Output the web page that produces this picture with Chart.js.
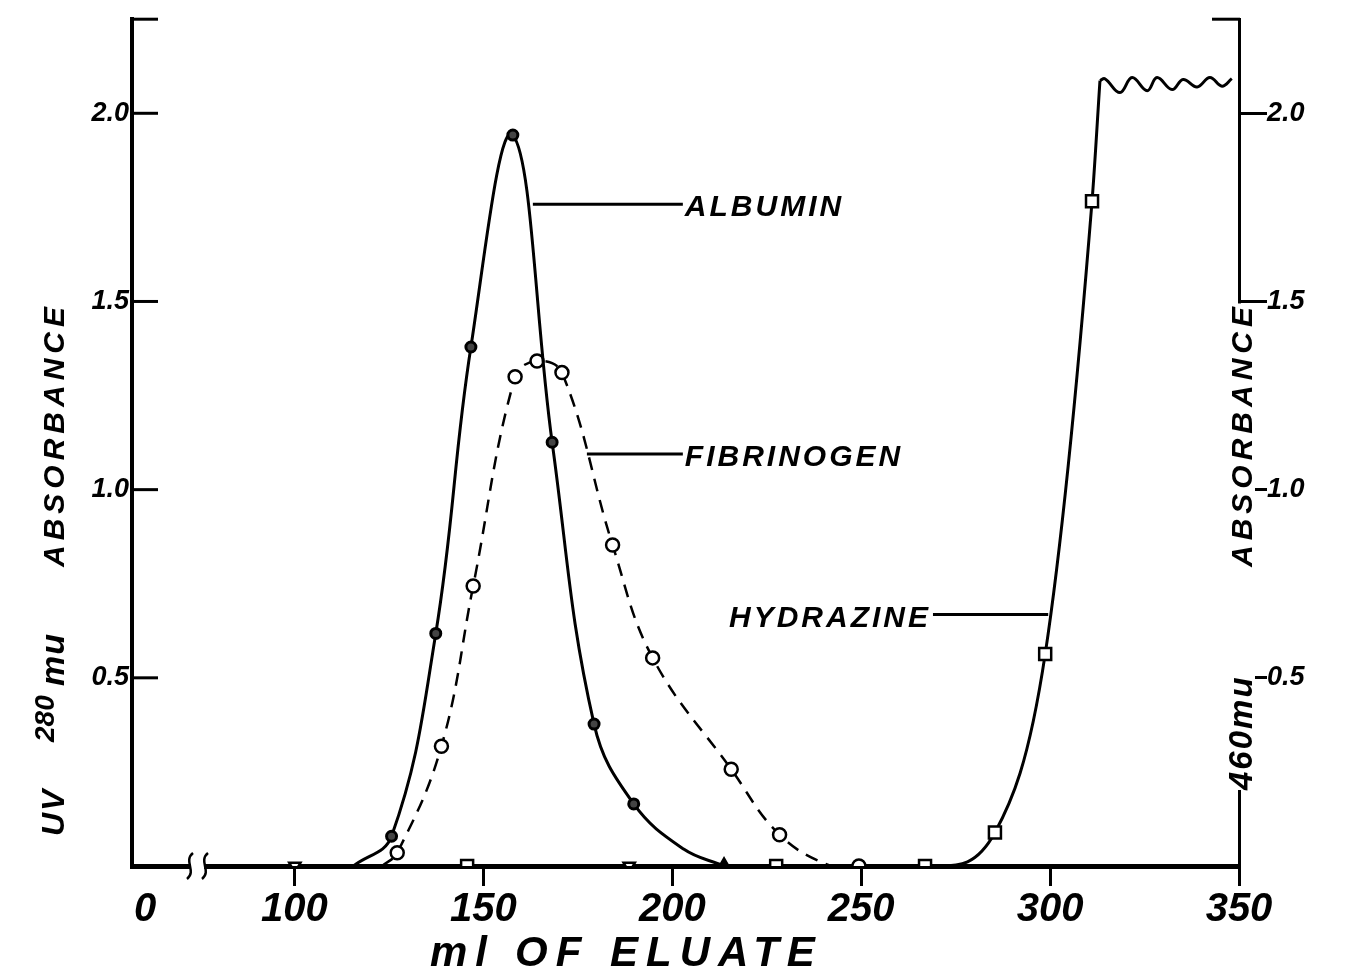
<!DOCTYPE html>
<html>
<head>
<meta charset="utf-8">
<script src="https://cdn.jsdelivr.net/npm/chart.js@4.4.1/dist/chart.umd.min.js"></script>
<style>
  html, body { margin: 0; padding: 0; background: #fff; }
  #wrap { width: 1345px; height: 975px; }
</style>
</head>
<body>
<div id="wrap"><canvas id="myChart"></canvas></div>
<script>
// ml of eluate vs absorbance
const albuminMl       = [115.6, 125.7, 137.4, 146.7, 157.8, 168.2, 179.3, 189.8, 203.0, 213.7];
const albuminAbs      = [0, 0.079, 0.618, 1.379, 1.942, 1.126, 0.377, 0.165, 0.045, 0];
const albuminMeasured = [false, true, true, true, true, true, true, true, false, true];

const fibrinogenMl       = [123.2, 127.2, 138.9, 147.3, 158.4, 164.2, 170.8, 184.2, 194.8, 215.6, 228.4, 242, 249.4];
const fibrinogenAbs      = [0, 0.035, 0.318, 0.744, 1.30, 1.342, 1.311, 0.853, 0.553, 0.257, 0.083, 0, 0];
const fibrinogenMeasured = [false, true, true, true, true, true, true, true, true, true, true, false, true];

const hydrazineMl       = [100.1, 145.7, 188.6, 227.5, 266.9, 270.9, 285.4, 298.7, 311.1, 313.2];
const hydrazineAbs      = [0, 0, 0, 0, 0, 0, 0.089, 0.563, 1.766, 2.087];
const hydrazineMeasured = [true, true, true, true, true, false, true, true, true, false];

// off-scale part of the hydrazine trace (wavy line at the top)
const hydrazineTopMl  = [313.2, 314.5, 318.5, 321.7, 325.7, 328.3, 332.3, 335.2, 338.9, 342.3, 345.5, 348.1];
const hydrazineTopAbs = [2.087, 2.092, 2.055, 2.095, 2.060, 2.095, 2.063, 2.090, 2.070, 2.095, 2.072, 2.092];

// axes
const xTickValues = [60.5, 100, 150, 200, 250, 300, 350];
const xTickLabels = ['0', '100', '150', '200', '250', '300', '350'];
const yTickValues = [0.5, 1.0, 1.5, 2.0];
const yTickLabels = ['0.5', '1.0', '1.5', '2.0'];

// marker shapes
const albuminShapes   = albuminMl.map((v, i) => i === albuminMl.length - 1 ? 'triangle' : 'circle');
const hydrazineShapes = ['triangle', 'rect', 'triangle', 'rect', 'rect', 'rect', 'rect', 'rect', 'rect', 'rect'];
const hydrazineRot    = [180, 0, 180, 0, 0, 0, 0, 0, 0, 0];

const FAMILY = '"Liberation Sans", Arial, sans-serif';
const letterFont = size => 'italic bold ' + size + 'px ' + FAMILY;

function toPoints(xs, ys) {
  return xs.map((x, i) => ({ x: x, y: ys[i] }));
}

// leader lines + series names
const seriesLabels = [
  { text: 'ALBUMIN',    from: 163.1, to: 202.8, abs: 1.758, side: 'right' },
  { text: 'FIBRINOGEN', from: 177.4, to: 202.8, abs: 1.095, side: 'right' },
  { text: 'HYDRAZINE',  from: 299.5, to: 269.0, abs: 0.668, side: 'left' }
];

function drawUp(ctx, text, bx, yBottom, size, spacing) {
  ctx.save();
  ctx.translate(bx, yBottom);
  ctx.rotate(-Math.PI / 2);
  ctx.font = letterFont(size);
  ctx.letterSpacing = spacing + 'px';
  ctx.textAlign = 'left';
  ctx.textBaseline = 'alphabetic';
  ctx.fillText(text, 0, 0);
  ctx.restore();
}

const decorations = {
  id: 'decorations',
  afterDraw(chart) {
    const ctx = chart.ctx;
    const a = chart.chartArea;
    const x = chart.scales.x;
    const y = chart.scales.y;
    ctx.save();
    ctx.strokeStyle = '#000';
    ctx.fillStyle = '#000';

    const seg = (x0, y0, x1, y1, w) => {
      ctx.lineWidth = w;
      ctx.beginPath(); ctx.moveTo(x0, y0); ctx.lineTo(x1, y1); ctx.stroke();
    };

    // left axis: ticks point inward
    yTickValues.forEach(v => {
      const py = y.getPixelForValue(v);
      seg(a.left, py, a.left + 26, py, 3);
    });
    // end caps at the top of both axes
    seg(a.left - 2, a.top, a.left + 26, a.top, 3);
    seg(a.right - 27, a.top, a.right + 1, a.top, 3);

    // axis break near the origin
    ctx.fillStyle = '#fff';
    ctx.fillRect(191, a.bottom - 8, 13, 16);
    ctx.fillStyle = '#000';
    [190, 205].forEach(bx => {
      ctx.lineWidth = 2.5;
      ctx.beginPath();
      ctx.moveTo(bx + 3, a.bottom - 13);
      ctx.bezierCurveTo(bx - 7, a.bottom - 5, bx + 7, a.bottom + 5, bx - 3, a.bottom + 13);
      ctx.stroke();
    });

    // right axis title sits on the axis line
    const gapTop = y.getPixelForValue(1.5) + 2;
    ctx.fillStyle = '#fff';
    ctx.fillRect(a.right - 16, gapTop, 32, 790 - gapTop);
    ctx.fillStyle = '#000';
    drawUp(ctx, '460mu', a.right + 13, 790, 33, 2);
    drawUp(ctx, 'ABSORBANCE', a.right + 13, 567, 30, 5);

    // left axis title
    drawUp(ctx, 'UV', 64, 836, 32, 2);
    drawUp(ctx, '280', 54, 742, 28, 0);
    drawUp(ctx, 'mu', 64, 686, 34, 1);
    drawUp(ctx, 'ABSORBANCE', 64, 567, 30, 5);

    // x axis title
    ctx.font = letterFont(42);
    ctx.letterSpacing = '8px';
    ctx.textAlign = 'left';
    ctx.textBaseline = 'alphabetic';
    ctx.fillText('ml', 430, 966);
    ctx.fillText('OF', 515, 966);
    ctx.fillText('ELUATE', 610, 966);

    // series names with leader lines
    ctx.font = letterFont(30);
    ctx.letterSpacing = '3px';
    seriesLabels.forEach(s => {
      const x0 = x.getPixelForValue(s.from);
      const x1 = x.getPixelForValue(s.to);
      const py = y.getPixelForValue(s.abs);
      seg(x0, py, x1, py, 3);
      ctx.textAlign = s.side === 'right' ? 'left' : 'right';
      ctx.fillText(s.text, s.side === 'right' ? x1 + 2 : x1 - 2, py + 12);
    });

    ctx.restore();
  }
};

const data = {
  datasets: [
    {
      label: 'Albumin',
      data: toPoints(albuminMl, albuminAbs),
      borderColor: '#000',
      borderWidth: 3,
      tension: 0.4,
      pointStyle: albuminShapes,
      pointRadius: ctx => albuminMeasured[ctx.dataIndex] ? (albuminShapes[ctx.dataIndex] === 'triangle' ? 7 : 5) : 0,
      pointBorderWidth: 3,
      pointBorderColor: '#000',
      pointBackgroundColor: ctx => albuminShapes[ctx.dataIndex] === 'triangle' ? '#000' : '#444'
    },
    {
      label: 'Fibrinogen',
      data: toPoints(fibrinogenMl, fibrinogenAbs),
      borderColor: '#000',
      borderWidth: 2.5,
      borderDash: [13, 9],
      tension: 0.4,
      pointStyle: 'circle',
      pointRadius: ctx => fibrinogenMeasured[ctx.dataIndex] ? 6.5 : 0,
      pointBorderWidth: 2.5,
      pointBorderColor: '#000',
      pointBackgroundColor: '#fff'
    },
    {
      label: 'Hydrazine',
      data: toPoints(hydrazineMl, hydrazineAbs),
      borderColor: '#000',
      borderWidth: 3,
      cubicInterpolationMode: 'monotone',
      pointStyle: hydrazineShapes,
      rotation: hydrazineRot,
      pointRadius: ctx => hydrazineMeasured[ctx.dataIndex] ? (hydrazineShapes[ctx.dataIndex] === 'rect' ? 8.5 : 6.5) : 0,
      pointBorderWidth: 2.5,
      pointBorderColor: '#000',
      pointBackgroundColor: '#fff'
    },
    {
      label: 'Hydrazine (off scale)',
      data: toPoints(hydrazineTopMl, hydrazineTopAbs),
      borderColor: '#000',
      borderWidth: 3,
      tension: 0.4,
      pointRadius: 0
    }
  ]
};

const config = {
  type: 'line',
  data: data,
  options: {
    responsive: true,
    maintainAspectRatio: false,
    animation: false,
    layout: { padding: { top: 11, left: 0, right: 0, bottom: 0 } },
    plugins: {
      legend: { display: false },
      tooltip: { enabled: false }
    },
    scales: {
      x: {
        type: 'linear',
        min: 57,
        max: 350,
        afterBuildTicks: s => { s.ticks = xTickValues.map(v => ({ value: v })); },
        afterFit: s => { s.height = 109; },
        border: { display: true, color: '#000', width: 5 },
        grid: {
          drawOnChartArea: false,
          drawTicks: true,
          tickLength: 20,
          lineWidth: 3,
          color: ctx => (ctx.tick && ctx.tick.value === xTickValues[0]) ? 'rgba(0,0,0,0)' : '#000'
        },
        ticks: {
          color: '#000',
          font: { family: FAMILY, size: 40, style: 'italic', weight: 'bold' },
          padding: 0,
          maxRotation: 0,
          autoSkip: false,
          callback: (v, i) => xTickLabels[i]
        }
      },
      y: {
        type: 'linear',
        position: 'left',
        min: 0,
        max: 2.25,
        afterBuildTicks: s => { s.ticks = yTickValues.map(v => ({ value: v })); },
        afterFit: s => { s.width = 132; },
        border: { display: true, color: '#000', width: 4 },
        grid: { drawOnChartArea: false, drawTicks: false },
        ticks: {
          color: '#000',
          font: { family: FAMILY, size: 27, style: 'italic', weight: 'bold' },
          padding: 3,
          callback: (v, i) => yTickLabels[i]
        }
      },
      y2: {
        type: 'linear',
        position: 'right',
        display: true,
        min: 0,
        max: 2.25,
        afterBuildTicks: s => { s.ticks = yTickValues.map(v => ({ value: v })); },
        afterFit: s => { s.width = 106; },
        border: { display: true, color: '#000', width: 3 },
        grid: { drawOnChartArea: false, drawTicks: true, tickLength: 28, lineWidth: 3, color: '#000' },
        ticks: {
          color: '#000',
          font: { family: FAMILY, size: 27, style: 'italic', weight: 'bold' },
          padding: 0,
          callback: (v, i) => yTickLabels[i]
        }
      }
    }
  },
  plugins: [decorations]
};

const myChart = new Chart(document.getElementById('myChart'), config);
</script>
</body>
</html>
